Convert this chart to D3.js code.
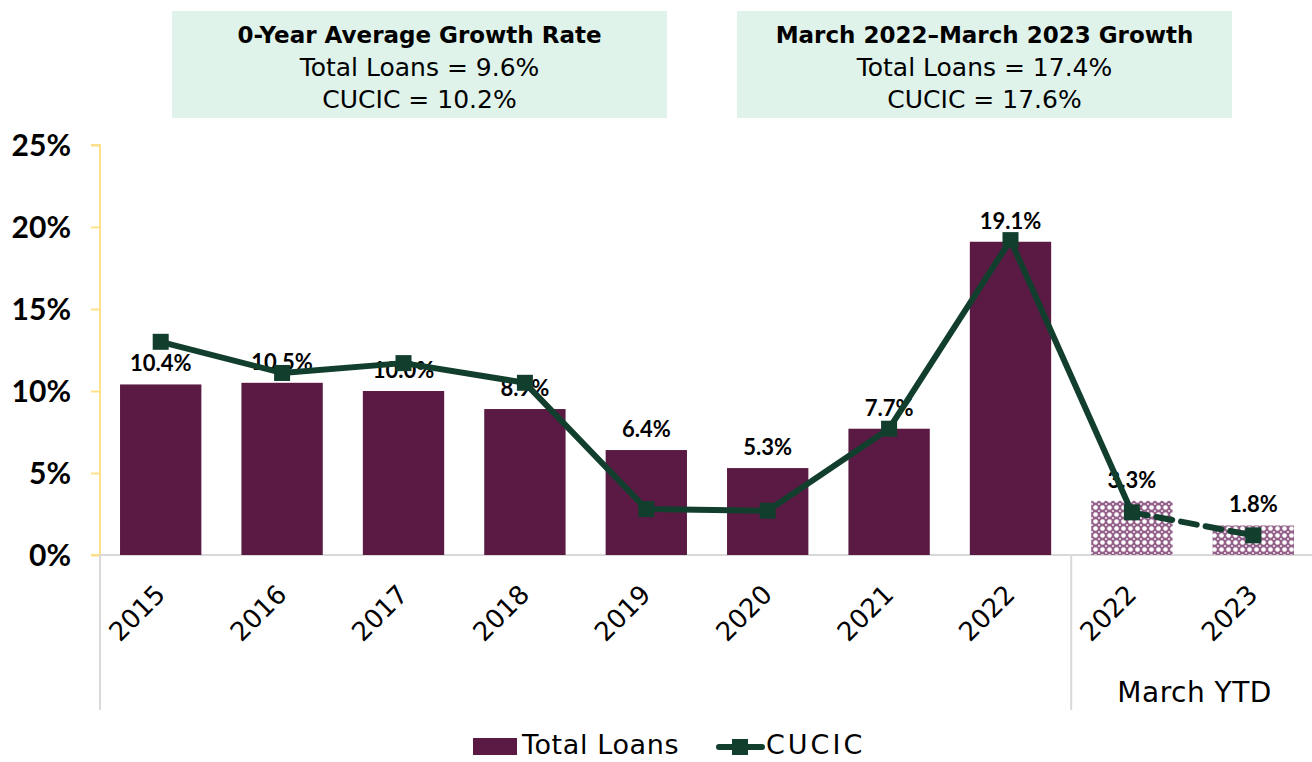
<!DOCTYPE html>
<html>
<head>
<meta charset="utf-8">
<script src="https://cdn.jsdelivr.net/npm/d3@7"></script>
<style>
  html, body { margin: 0; padding: 0; background: #ffffff; }
  svg { display: block; font-family: "Lato", "DejaVu Sans", sans-serif; }
</style>
</head>
<body>
<svg id="chart" width="1312" height="762"></svg>
<script>
// Categories along the x axis (last two are March year-to-date figures)
const categories = ["2015", "2016", "2017", "2018", "2019", "2020", "2021", "2022", "2022 YTD", "2023 YTD"];
const tickLabels = ["2015", "2016", "2017", "2018", "2019", "2020", "2021", "2022", "2022", "2023"];
// Annual loan growth, percent
const totalLoans = [10.4, 10.5, 10.0, 8.9, 6.4, 5.3, 7.7, 19.1, 3.3, 1.8];
// Comparison series, percent
const cucic = [13.0, 11.1, 11.7, 10.5, 2.8, 2.7, 7.7, 19.2, 2.6, 1.2];
const yTicks = [0, 5, 10, 15, 20, 25];
const ytdFlags = [false, false, false, false, false, false, false, false, true, true];

const infoBoxes = [
  { title: "0-Year Average Growth Rate", lines: ["Total Loans = 9.6%", "CUCIC = 10.2%"] },
  { title: "March 2022\u2013March 2023 Growth", lines: ["Total Loans = 17.4%", "CUCIC = 17.6%"] }
];

const svg = d3.select("#chart");
const barColor = "#5a1a44";
const lineColor = "#123f2d";
const wideFont = "DejaVu Sans, sans-serif";

const x = d3.scaleBand().domain(categories).range([100, 1314]).paddingInner(0.33).paddingOuter(0.165);
const y = d3.scaleLinear().domain([0, 25]).range([555, 145]);

// Lattice fill for the year-to-date bars
const defs = svg.append("defs");
const pat = defs.append("pattern").attr("id", "ytdHatch")
  .attr("patternUnits", "userSpaceOnUse").attr("width", 7).attr("height", 7);
pat.append("rect").attr("width", 7).attr("height", 7).attr("fill", "#93608a");
pat.append("circle").attr("cx", 3.5).attr("cy", 3.5).attr("r", 2.3).attr("fill", "#ffffff");
[[0, 0], [7, 0], [0, 7], [7, 7]].forEach(([px, py]) =>
  pat.append("circle").attr("cx", px).attr("cy", py).attr("r", 1.1).attr("fill", "#f3e6ef"));

// Info boxes across the top
const boxGeom = [{ x0: 172, x1: 667 }, { x0: 737, x1: 1232 }];
infoBoxes.forEach((b, i) => {
  const g = svg.append("g").attr("font-family", wideFont);
  const gx = boxGeom[i];
  g.append("rect").attr("x", gx.x0).attr("y", 11).attr("width", gx.x1 - gx.x0).attr("height", 107)
    .attr("fill", "#dff3ea");
  const cx = (gx.x0 + gx.x1) / 2;
  g.append("text").attr("x", cx).attr("y", 43).attr("text-anchor", "middle")
    .attr("font-size", 23).attr("font-weight", "bold").attr("fill", "#000").text(b.title);
  b.lines.forEach((t, j) => {
    g.append("text").attr("x", cx).attr("y", 76 + j * 32).attr("text-anchor", "middle")
      .attr("font-size", 25).attr("fill", "#000").text(t);
  });
});

// Y axis
const yAxis = d3.axisLeft(y).tickValues(yTicks).tickFormat(d => d + "%").tickSize(9).tickPadding(20);
const ya = svg.append("g").attr("transform", "translate(100,0)").call(yAxis);
ya.select(".domain").attr("stroke", "#ffe08a").attr("stroke-width", 2).attr("d", "M-9,145H0V555H-9");
ya.selectAll(".tick line").attr("stroke", "#ffe08a").attr("stroke-width", 2);
ya.selectAll(".tick text").attr("font-size", 30).attr("font-weight", "bold").attr("fill", "#000")
  .attr("font-family", "Lato, DejaVu Sans, sans-serif").attr("dy", "0.36em");

// X axis baseline and category separators
svg.append("line").attr("x1", 100).attr("x2", 1312).attr("y1", 555).attr("y2", 555)
  .attr("stroke", "#d9d9d9").attr("stroke-width", 2);
const sepX = (x(categories[7]) + x.bandwidth() + x(categories[8])) / 2;
[100, sepX].forEach(sx => {
  svg.append("line").attr("x1", sx).attr("x2", sx).attr("y1", 555).attr("y2", 710)
    .attr("stroke", "#d9d9d9").attr("stroke-width", 2);
});

// Bars
svg.append("g").selectAll("rect").data(categories).join("rect")
  .attr("x", d => x(d)).attr("width", x.bandwidth())
  .attr("y", (d, i) => y(totalLoans[i])).attr("height", (d, i) => y(0) - y(totalLoans[i]))
  .attr("fill", (d, i) => ytdFlags[i] ? "url(#ytdHatch)" : barColor);

// Bar value labels
svg.append("g").selectAll("text").data(categories).join("text")
  .attr("x", d => x(d) + x.bandwidth() / 2)
  .attr("y", (d, i) => y(totalLoans[i]) - 13)
  .attr("text-anchor", "middle").attr("font-size", 22).attr("font-weight", "bold").attr("fill", "#000")
  .text((d, i) => totalLoans[i].toFixed(1) + "%");

// CUCIC line: solid for annual figures, dashed between year-to-date points
const cx = d => x(d) + x.bandwidth() / 2;
const pts = categories.map((c, i) => [cx(c), y(cucic[i])]);
const line = d3.line();
svg.append("path").attr("d", line(pts.slice(0, 9))).attr("fill", "none")
  .attr("stroke", lineColor).attr("stroke-width", 6).attr("stroke-linejoin", "round");
svg.append("path").attr("d", line(pts.slice(8))).attr("fill", "none")
  .attr("stroke", lineColor).attr("stroke-width", 6).attr("stroke-dasharray", "16,9").attr("stroke-linecap", "round");
svg.append("g").selectAll("rect").data(pts).join("rect")
  .attr("x", d => d[0] - 8).attr("y", d => d[1] - 8).attr("width", 16).attr("height", 16)
  .attr("fill", lineColor);

// Rotated tick labels
svg.append("g").selectAll("text").data(categories).join("text")
  .attr("transform", d => `translate(${cx(d) + 6},${596}) rotate(-45)`)
  .attr("text-anchor", "end").attr("font-size", 26).attr("font-family", wideFont).attr("fill", "#000")
  .text((d, i) => tickLabels[i]);

svg.append("text").attr("x", (sepX + 1312) / 2 + 3).attr("y", 702).attr("text-anchor", "middle")
  .attr("font-size", 28).attr("font-family", wideFont).attr("letter-spacing", 0.5).attr("fill", "#000")
  .text("March YTD");

// Legend
const lg = svg.append("g").attr("font-family", wideFont);
lg.append("rect").attr("x", 473).attr("y", 738).attr("width", 44).attr("height", 17).attr("fill", barColor);
lg.append("text").attr("x", 522).attr("y", 754).attr("font-size", 27).attr("letter-spacing", 0.6).attr("fill", "#000").text("Total Loans");
lg.append("line").attr("x1", 719).attr("x2", 762).attr("y1", 747).attr("y2", 747)
  .attr("stroke", lineColor).attr("stroke-width", 6).attr("stroke-linecap", "round");
lg.append("rect").attr("x", 732).attr("y", 739).attr("width", 16).attr("height", 16).attr("fill", lineColor);
lg.append("text").attr("x", 766).attr("y", 754).attr("font-size", 27).attr("letter-spacing", 3).attr("fill", "#000").text("CUCIC");
</script>
</body>
</html>
